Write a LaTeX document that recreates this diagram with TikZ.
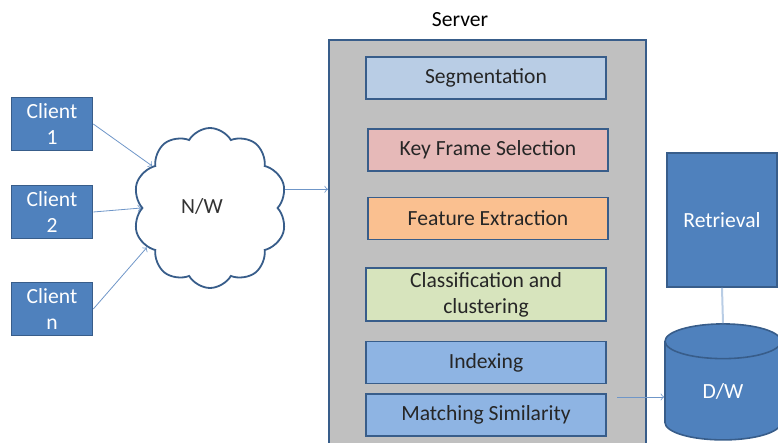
\documentclass[tikz,border=0pt]{standalone}
\usepackage{fontspec}
\setmainfont{Carlito}
\usepackage{tikz}
\usepackage{xcolor}
\usetikzlibrary{calc}
\usetikzlibrary{positioning}
\usetikzlibrary{shapes.symbols}
\usetikzlibrary{shapes.geometric}

\definecolor{boxblue}{HTML}{4F81BD}
\definecolor{edgeblue}{HTML}{385D8A}
\definecolor{linkblue}{HTML}{6F96C8}
\definecolor{paleblue}{HTML}{B9CDE5}
\definecolor{segfill}{HTML}{B9CDE5}
\definecolor{keyfill}{HTML}{E6B9B8}
\definecolor{featfill}{HTML}{FAC090}
\definecolor{classfill}{HTML}{D7E4BD}
\definecolor{idxfill}{HTML}{8EB4E3}
\definecolor{servgray}{HTML}{C0C0C0}

\begin{document}
\begin{tikzpicture}[x=0.5pt,y=-0.5pt,
  font=\fontsize{10.8}{13}\selectfont,
  darkbox/.style={draw=edgeblue,line width=0.8pt,fill=boxblue,text=white,align=center,inner sep=0pt},
  stage/.style={draw=edgeblue,line width=0.8pt,minimum width=120pt,minimum height=21pt,text=black!85,align=center,inner sep=0pt},
  link/.style={draw=linkblue,line width=0.4pt,->}]
\useasboundingbox (0,0) rectangle (778,443);

% clients and network
\node[darkbox,minimum width=40.5pt,minimum height=26.5pt] (client1) at (52,124) {Client\\1};
\node[darkbox,minimum width=40.5pt,minimum height=26.5pt] (client2) at (52,212) {Client\\2};
\node[darkbox,minimum width=40.5pt,minimum height=26.5pt] (clientn) at (52,309) {Client\\n};

\node[cloud,draw=edgeblue,line width=0.9pt,fill=white,cloud puffs=10,cloud puff arc=120,
  minimum width=77pt,minimum height=80pt,text=black!80] (net) at (210,208) {\raisebox{2pt}{N/W}\hspace*{8pt}};

\draw[link] (client1.east) -- (net.144);
\draw[link] (client2.east) -- (net.180);
\draw[link] (clientn.east) -- (net.212);

% server
\node[draw=edgeblue,line width=0.9pt,fill=servgray,anchor=north west,
  minimum width=158.5pt,minimum height=206pt] (server) at (328,39) {};
\node (servlabel) at (460,20) {Server};
\draw[link] (net.14) -- (net.14 -| server.west);

\node[stage,fill=segfill] (seg) at (486,78) {Segmentation};
\node[stage,fill=keyfill] (keyfr) at (488,150) {Key Frame Selection};
\node[stage,fill=featfill] (feat) at (488,218.5) {Feature Extraction};
\node[stage,fill=classfill,minimum height=26.5pt] (clas) at (486,294.5) {Classification and\\clustering};
\node[stage,fill=idxfill] (idx) at (486,362.5) {Indexing};
\node[stage,fill=idxfill] (match) at (486,415) {Matching Similarity};

% retrieval and data warehouse
\node[darkbox,minimum width=55pt,minimum height=67pt] (ret) at (722,220) {Retrieval};
\node[cylinder,shape border rotate=90,aspect=0.85,draw=edgeblue,line width=0.8pt,fill=boxblue,
  text=white,minimum width=58pt,minimum height=58pt,inner sep=0pt] (dw) at (723,391) {D/W};
\draw[paleblue,line width=1pt] (ret.south) -- (dw.north);

\coordinate (mout) at (617,397);
\draw[link] (mout) -- (mout -| dw.west);
\end{tikzpicture}
\end{document}
